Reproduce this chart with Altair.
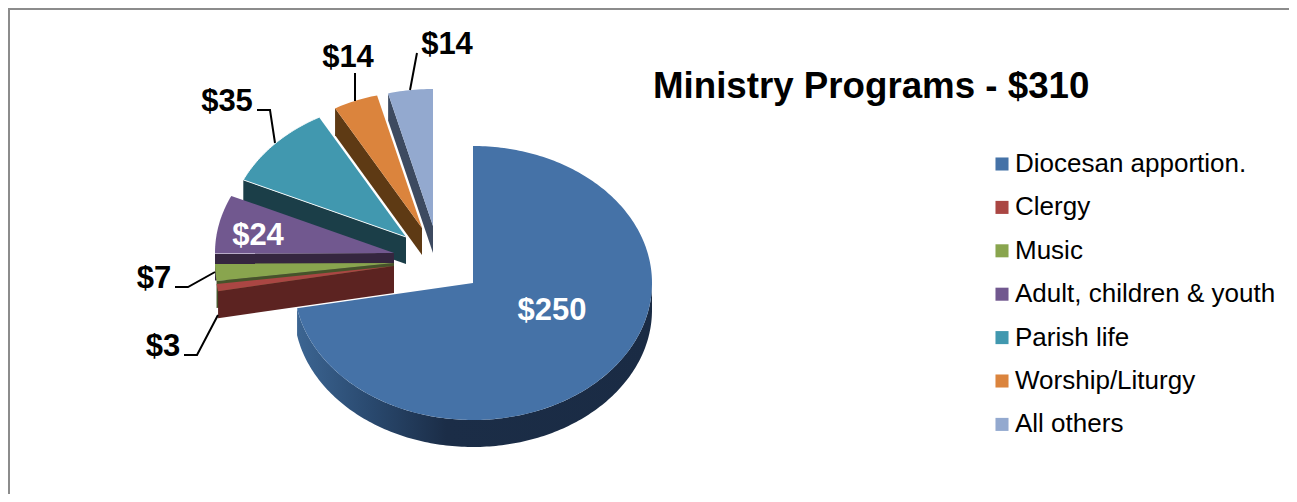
import math
import altair as alt
import pandas as pd

categories = ["Diocesan apportion.", "Clergy", "Music", "Adult, children & youth",
              "Parish life", "Worship/Liturgy", "All others"]
values = [250, 3, 7, 24, 35, 14, 14]
top_colors = ["#4572A7", "#AA4643", "#89A54E", "#71588F", "#4198AF", "#DB843D", "#93A9CF"]
side_colors = ["#1B2D47", "#5C2321", "#46532A", "#35263F", "#1B3E48", "#5E3A14", "#3D4A60"]
value_labels = ["$250", "$3", "$7", "$24", "$35", "$14", "$14"]

# layout of the exploded 3-D pie, in picture pixels
RX, RY, DEPTH = 179, 137, 27
vertex = [(473, 283), (394, 266), (394, 263), (394, 253), (406, 237), (422, 228), (433, 226)]
label_pos = [(552, 311), (163, 347), (154, 279), (258, 236), (227, 102), (348, 58), (447, 45)]
label_col = ["white", "black", "black", "white", "black", "black", "black"]
leaders = [
    [(257, 110), (270, 110), (275, 143)],
    [(355, 73), (355, 101)],
    [(417, 53), (410, 90)],
    [(175, 287), (188, 287), (215, 272)],
    [(184, 355), (197, 355), (218, 315)],
]

W, H = 1281, 486
x_enc = alt.X("x:Q", axis=None, scale=alt.Scale(domain=[8, 8 + W], range=[0, W]))
y_enc = alt.Y("y:Q", axis=None, scale=alt.Scale(domain=[8, 8 + H], range=[0, H]))
fill_scale = alt.Scale(domain=categories, range=top_colors)
legend = alt.Legend(title=None, orient="none", legendX=981, legendY=143, symbolType="square",
                    symbolSize=170, symbolStrokeWidth=0, labelFont="Liberation Sans",
                    labelFontSize=26, labelColor="black", labelLimit=320, rowPadding=17.4,
                    symbolOffset=0, labelOffset=0, padding=0)

total = sum(values)


def pt(v, t, dz=0):
    a = math.radians(t)
    return (v[0] + RX * math.sin(a), v[1] - RY * math.cos(a) + dz)


def arc(v, t0, t1, dz=0):
    n = max(2, int(abs(t1 - t0)) + 1)
    return [pt(v, t0 + (t1 - t0) * k / n, dz) for k in range(n + 1)]


def frame(points, name):
    return pd.DataFrame({"x": [p[0] for p in points], "y": [p[1] for p in points],
                         "i": range(len(points)), "name": name})


angles = [0]
for val in values:
    angles.append(angles[-1] + val / total * 360)

side_gradient = alt.LinearGradient(
    gradient="linear", x1=0, x2=1, y1=0, y2=0,
    stops=[alt.GradientStop(offset=0, color="#3C6592"),
           alt.GradientStop(offset=0.2, color="#2A4A70"),
           alt.GradientStop(offset=0.42, color="#1B2D47"),
           alt.GradientStop(offset=1, color="#1A2B44")])

layers = []
for idx in [6, 5, 4, 3, 2, 1, 0]:
    v, t0, t1 = vertex[idx], angles[idx], angles[idx + 1]
    name = categories[idx]
    if idx == 0:
        wall = arc(v, 90, t1) + arc(v, t1, 90, DEPTH)
        side_mark = alt.Chart(frame(wall, name)).mark_line(fill=side_gradient, strokeWidth=0)
    else:
        wall = [v, pt(v, t0), pt(v, t0, DEPTH), (v[0], v[1] + DEPTH)]
        side_mark = alt.Chart(frame(wall, name)).mark_line(fill=side_colors[idx], strokeWidth=0)
    layers.append(side_mark.encode(x=x_enc, y=y_enc, order=alt.Order("i:Q")))

    top = [v] + arc(v, t0, t1)
    outlined = idx in (1, 2, 3, 4, 5)
    layers.append(
        alt.Chart(frame(top, name))
        .mark_line(strokeWidth=1 if idx == 4 else 0, stroke="white", strokeOpacity=0.9 if outlined else 0)
        .encode(x=x_enc, y=y_enc, order=alt.Order("i:Q"),
                fill=alt.Fill("name:N", scale=fill_scale, legend=legend))
    )

for k, path in enumerate(leaders):
    layers.append(
        alt.Chart(frame(path, "leader")).mark_line(color="black", strokeWidth=2)
        .encode(x=x_enc, y=y_enc, order=alt.Order("i:Q"))
    )

labels = pd.DataFrame({"x": [p[0] for p in label_pos], "y": [p[1] for p in label_pos],
                       "t": value_labels, "c": label_col})
layers.append(
    alt.Chart(labels).mark_text(font="Liberation Sans", fontWeight="bold", fontSize=31,
                                align="center", baseline="middle")
    .encode(x=x_enc, y=y_enc, text="t:N", color=alt.Color("c:N", scale=None, legend=None))
)

border = [
    alt.Chart(pd.DataFrame({"a": [0]})).mark_rule(color="#8C8C8C", strokeWidth=2)
    .encode(x=alt.value(0), x2=alt.value(W), y=alt.value(1)),
    alt.Chart(pd.DataFrame({"a": [0]})).mark_rule(color="#8C8C8C", strokeWidth=2)
    .encode(x=alt.value(1), y=alt.value(0), y2=alt.value(H)),
]

chart = (
    alt.layer(*border, *layers)
    .properties(
        width=W, height=H, padding=0,
        autosize=alt.AutoSizeParams(type="none"),
        title=alt.TitleParams("Ministry Programs - $310", font="Liberation Sans", fontSize=36.7,
                              fontWeight="bold", color="black", anchor="start", frame="group",
                              dx=645, dy=99, offset=0),
    )
    .configure_view(stroke=None)
)

chart.save("out.html", embed_options={"renderer": "svg", "actions": False})
